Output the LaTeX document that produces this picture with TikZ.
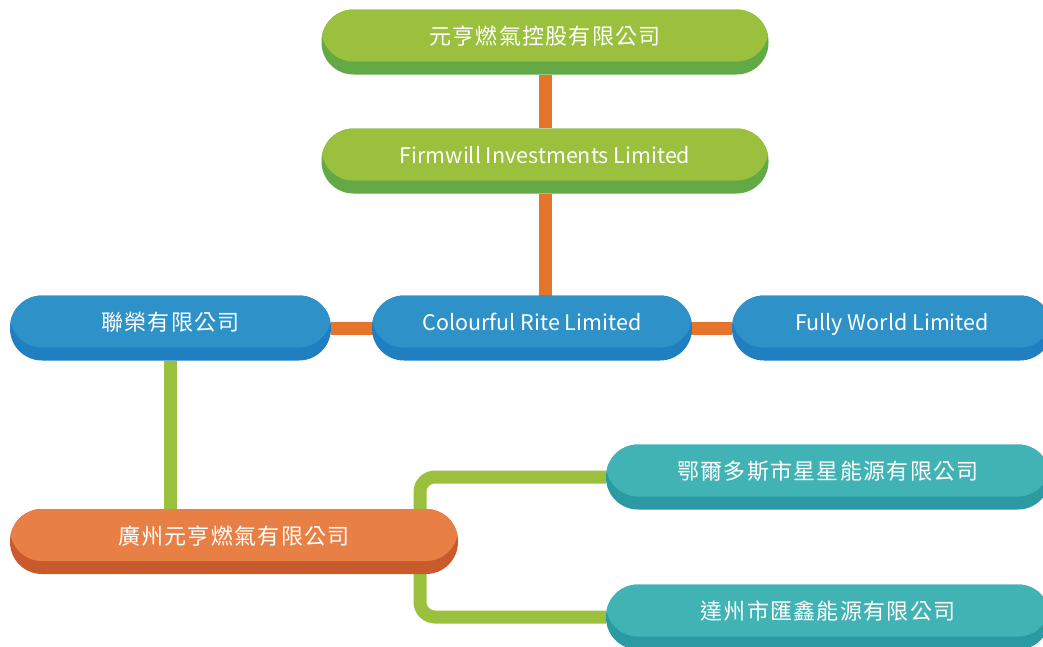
\documentclass[tikz,border=0pt]{standalone}
\usepackage{fontspec}
\setmainfont{Noto Sans CJK TC}
\newfontfamily\cjk[LetterSpace=6]{Noto Sans CJK TC}
\usetikzlibrary{backgrounds}
\definecolor{grnlight}{HTML}{9BC03E}
\definecolor{grndark}{HTML}{63A946}
\definecolor{bluelight}{HTML}{2E91C8}
\definecolor{bluedark}{HTML}{1F7FC0}
\definecolor{orglight}{HTML}{E88046}
\definecolor{orgdark}{HTML}{C85A2C}
\definecolor{teallight}{HTML}{42B3B5}
\definecolor{tealdark}{HTML}{2C9AA3}
\definecolor{orgline}{HTML}{E5752A}
\newcommand\zh[1]{{\cjk\fontsize{22}{26}\selectfont #1}}
\begin{document}
\begin{tikzpicture}[x=1pt,y=-1pt,
  pill/.style 2 args={rounded corners=32pt, minimum height=65pt, inner sep=0pt, text height=15pt, text depth=10pt, text=white, font=\fontsize{21.5}{26}\selectfont, fill=#2,
    path picture={\fill[#1,rounded corners=32pt] ([yshift=13pt]path picture bounding box.south west) rectangle ([yshift=13pt]path picture bounding box.north east);}},
  link/.style={line width=13pt, draw=#1}]
\useasboundingbox (0,0) rectangle (1043,646);
% holding chain
\node[pill={grnlight}{grndark}, minimum width=447pt] (hold) at (545,42) {\zh{元亨燃氣控股有限公司}};
\node[pill={grnlight}{grndark}, minimum width=447pt] (firm) at (545,161) {Firmwill Investments Limited};
\node[pill={bluelight}{bluedark}, minimum width=320pt] (colour) at (532,328) {Colourful Rite Limited};
\node[pill={bluelight}{bluedark}, minimum width=321pt] (lianrong) at (170.5,328) {\zh{聯榮有限公司}};
\node[pill={bluelight}{bluedark}, minimum width=320pt] (fully) at (892,328) {Fully World Limited};
% subsidiaries
\node[pill={orglight}{orgdark}, minimum width=448pt] (guangzhou) at (234,541.5) {\zh{廣州元亨燃氣有限公司}};
\node[pill={teallight}{tealdark}, minimum width=444pt] (eerduosi) at (828,477) {\zh{鄂爾多斯市星星能源有限公司}};
\node[pill={teallight}{tealdark}, minimum width=444pt] (dazhou) at (828,617) {\zh{達州市匯鑫能源有限公司}};
\coordinate (fork) at (420,541.5);
\begin{scope}[on background layer]
\draw[link=orgline] (hold) -- (firm) -- (firm |- colour);
\draw[link=orgline] (lianrong) -- (fully);
\draw[link=grnlight] (lianrong) -- (lianrong |- guangzhou);
\draw[link=grnlight, rounded corners=15pt] (eerduosi) -| (fork) |- (dazhou);
\end{scope}
\end{tikzpicture}
\end{document}
